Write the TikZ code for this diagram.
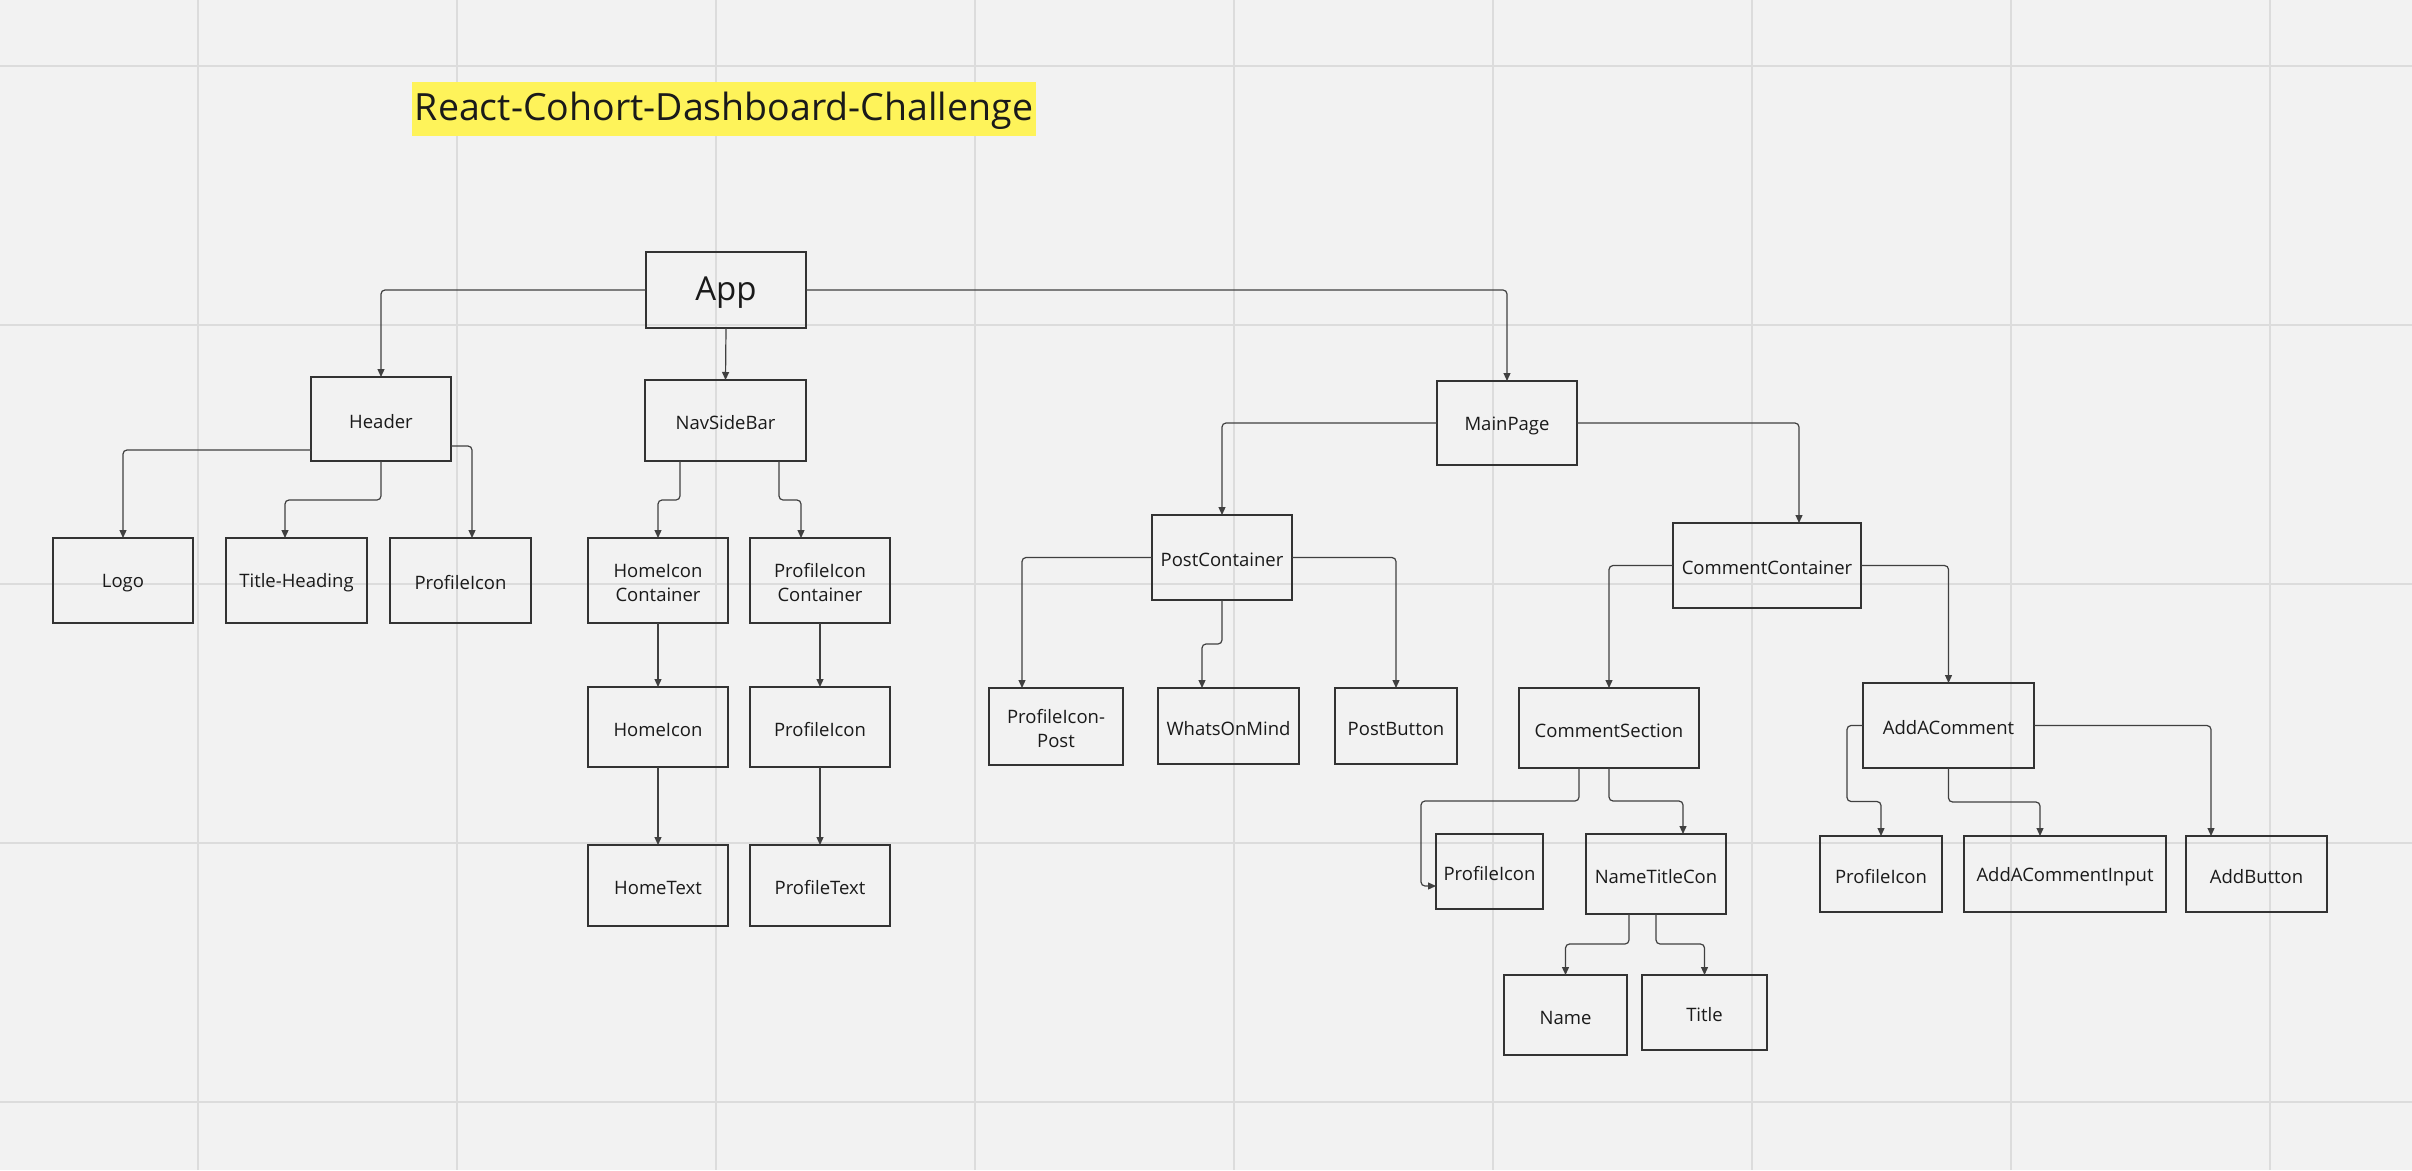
\documentclass[tikz,border=0pt]{standalone}
\usepackage{fontspec}
\setmainfont{Open Sans}
\usetikzlibrary{arrows.meta,calc}
\definecolor{bgc}{HTML}{F2F2F2}
\definecolor{gridc}{HTML}{DCDCDC}
\definecolor{linec}{HTML}{404040}
\definecolor{boxc}{HTML}{333333}
\definecolor{txtc}{HTML}{1A1A1A}
\definecolor{titley}{HTML}{FEF35A}
\tikzset{
  box/.style={draw=boxc, line width=1.15pt, inner sep=0pt, outer sep=0pt},
  txt/.style={align=center, text=txtc, inner sep=0pt, font=\fontsize{18.5}{24}\selectfont},
  conn/.style={draw=linec, line width=1.2pt, rounded corners=4pt,
    -{Triangle[length=8pt,width=7pt]}},
  gridline/.style={draw=gridc, line width=2pt}
}
\newcommand\bx[6]{\node[box, minimum width={#4-#2}, minimum height={#5-#3}] (#1) at ({(#2+#4)/2},{(#3+#5)/2}) {};
  \node[txt] (#1-t) at ([yshift=-2.5pt]#1.center) {#6};}
\begin{document}
\begin{tikzpicture}[x=1pt,y=-1pt]
\fill[bgc] (0,0) rectangle (2412,1170);
\useasboundingbox (0,0) rectangle (2412,1170);
\foreach \gx in {198,457,716,975,1234,1493,1752,2011,2270}
  \draw[gridline] (\gx,0) -- (\gx,1170);
\foreach \gy in {66,325,584,843,1102}
  \draw[gridline] (0,\gy) -- (2412,\gy);
% title
\fill[titley] (412,82) rectangle (1036,136);
\node[text=txtc, font=\fontsize{37.5}{40}\selectfont, inner sep=0pt] (ttl) at (724,111) {React-Cohort-Dashboard-Challenge};
% boxes
\bx{app}{646}{252}{806}{328}{\fontsize{33}{36}\selectfont App}
\bx{header}{311}{377}{451}{461}{Header}
\bx{nav}{645}{380}{806}{461}{NavSideBar}
\bx{logo}{53}{538}{193}{623}{Logo}
\bx{th}{226}{538}{367}{623}{Title-Heading}
\bx{hpi}{390}{538}{531}{623}{ProfileIcon}
\bx{hic}{588}{538}{728}{623}{HomeIcon\\Container}
\bx{pic}{750}{538}{890}{623}{ProfileIcon\\Container}
\bx{hi}{588}{687}{728}{767}{HomeIcon}
\bx{pi}{750}{687}{890}{767}{ProfileIcon}
\bx{ht}{588}{845}{728}{926}{HomeText}
\bx{pt}{750}{845}{890}{926}{ProfileText}
\bx{main}{1437}{381}{1577}{465}{MainPage}
\bx{post}{1152}{515}{1292}{600}{PostContainer}
\bx{cc}{1673}{523}{1861}{608}{CommentContainer}
\bx{pip}{989}{688}{1123}{765}{ProfileIcon-\\Post}
\bx{wom}{1158}{688}{1299}{764}{WhatsOnMind}
\bx{pb}{1335}{688}{1457}{764}{PostButton}
\bx{cs}{1519}{688}{1699}{768}{CommentSection}
\bx{aac}{1863}{683}{2034}{768}{AddAComment}
\bx{cspi}{1436}{834}{1543}{909}{ProfileIcon}
\bx{ntc}{1586}{834}{1726}{914}{NameTitleCon}
\bx{name}{1504}{975}{1627}{1055}{Name}
\bx{title}{1642}{975}{1767}{1050}{Title}
\bx{aacpi}{1820}{836}{1942}{912}{ProfileIcon}
\bx{aaci}{1964}{836}{2166}{912}{AddACommentInput}
\bx{ab}{2186}{836}{2327}{912}{AddButton}
% connectors
\draw[conn] (app.west) -| (header.north);
\draw[conn] (app.south) -- (nav.north);
\draw[conn] (app.east) -| (main.north);
\draw[conn] ([yshift=11pt]header.south west) -| (logo.north);
\draw[conn] (header.south) -- ++(0,39) -| ([xshift=-11.5pt]th.north);
\draw[conn] ([yshift=15pt]header.south east) -| ([xshift=11.5pt]hpi.north);
\draw[conn] ([xshift=-45.5pt]nav.south) -- ++(0,39) -| (hic.north);
\draw[conn] ([xshift=53.5pt]nav.south) -- ++(0,39) -| ([xshift=-19pt]pic.north);
\draw[conn] (hic.south) -- (hi.north);
\draw[conn] (hi.south) -- (ht.north);
\draw[conn] (pic.south) -- (pi.north);
\draw[conn] (pi.south) -- (pt.north);
\draw[conn] (main.west) -| (post.north);
\draw[conn] (main.east) -| ([xshift=32pt]cc.north);
\draw[conn] (post.west) -| ([xshift=-34pt]pip.north);
\draw[conn] (post.east) -| (pb.north);
\draw[conn] (post.south) -- ++(0,44) -| ([xshift=-26.5pt]wom.north);
\draw[conn] (cc.west) -| (cs.north);
\draw[conn] (cc.east) -| (aac.north);
\draw[conn] ([xshift=-30pt]cs.south) -- ++(0,33) -- ++(-158,0) |- ([yshift=-14.5pt]cspi.west);
\draw[conn] (cs.south) -- ++(0,33) -| ([xshift=27pt]ntc.north);
\draw[conn] ([xshift=-27pt]ntc.south) -- ++(0,30) -| (name.north);
\draw[conn] (ntc.south) -- ++(0,30) -| (title.north);
\draw[conn] (aac.west) -- ++(-16,0) -- ++(0,76) -| (aacpi.north);
\draw[conn] (aac.south) -- ++(0,34) -| ([xshift=-25pt]aaci.north);
\draw[conn] (aac.east) -| ([xshift=-45.5pt]ab.north);
\end{tikzpicture}
\end{document}
